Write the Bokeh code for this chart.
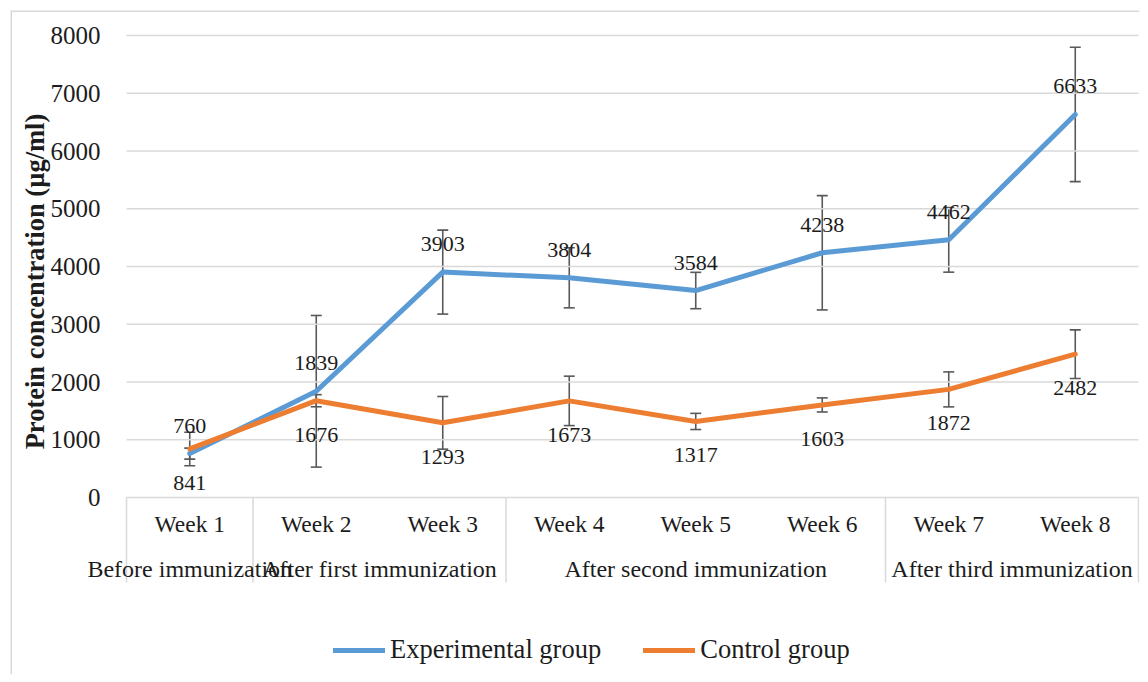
import math
from bokeh.plotting import figure
from bokeh.models import (Range1d, FixedTicker, LinearAxis, Whisker, ColumnDataSource,
                          Legend, LegendItem, TeeHead, Span)
from bokeh.core.properties import value
from bokeh.embed import file_html
from bokeh.resources import INLINE

# ---------------- data ----------------
weeks = ["Week 1", "Week 2", "Week 3", "Week 4", "Week 5", "Week 6", "Week 7", "Week 8"]
phases = ["Before immunization", "After first immunization", "After first immunization",
          "After second immunization", "After second immunization", "After second immunization",
          "After third immunization", "After third immunization"]
experimental = [760, 1839, 3903, 3804, 3584, 4238, 4462, 6633]
experimental_err = [95, 1313, 727, 520, 315, 990, 560, 1163]
control = [841, 1676, 1293, 1673, 1317, 1603, 1872, 2482]
control_err = [290, 105, 456, 428, 140, 122, 303, 421]
y_ticks = [0, 1000, 2000, 3000, 4000, 5000, 6000, 7000, 8000]
y_title = "Protein concentration (µg/ml)"
series_names = ["Experimental group", "Control group"]

FONT = "Liberation Serif"
TXT = "#1c1c1c"
BLUE = "#5B9BD5"
ORANGE = "#ED7D31"
GRID = "#d9d9d9"
ERR = "#595959"

# category positions (one unit per week)
xs = [i + 1 for i in range(len(weeks))]
x_lo, x_hi = xs[0] - 0.5, xs[-1] + 0.5

# phase groups: boundaries and centres
bounds = [x_lo]
centres, group_names = [], []
start = 0
for i in range(1, len(phases) + 1):
    if i == len(phases) or phases[i] != phases[start]:
        bounds.append(xs[i - 1] + 0.5)
        centres.append((xs[start] + xs[i - 1]) / 2)
        group_names.append(phases[start])
        start = i

# layout (pixels)
W, H = 1140, 676
UNIT = 126.5          # px per week
PX_PER_1000 = 57.75   # px per 1000 µg/ml
frame_left_pad = 116  # px of frame to the left of the first category
frame_right_pad = 1
frame_top_pad = 487   # px above y=0 inside the frame
frame_bottom_pad = 177  # px below y=0 inside the frame

x_start = x_lo - frame_left_pad / UNIT
x_end = x_hi + frame_right_pad / UNIT
y_end = frame_top_pad / PX_PER_1000 * 1000
y_start = -frame_bottom_pad / PX_PER_1000 * 1000
table_bottom = -85 / PX_PER_1000 * 1000

p = figure(x_range=Range1d(x_start, x_end), y_range=Range1d(y_start, y_end), width=W, height=H,
           output_backend="svg", toolbar_location=None, x_axis_location=None, y_axis_location=None,
           min_border_left=10, min_border_right=1, min_border_top=10, min_border_bottom=2)
p.outline_line_color = None
p.background_fill_color = "white"
p.border_fill_color = "white"
p.xgrid.visible = False
p.ygrid.visible = False

# chart-area border (left & top)
p.add_layout(Span(location=x_start, dimension="height", line_color=GRID, line_width=3))
p.add_layout(Span(location=y_end, dimension="width", line_color=GRID, line_width=3))

# horizontal gridlines across the category span
p.segment(x0=[x_lo] * len(y_ticks), x1=[x_hi] * len(y_ticks), y0=y_ticks, y1=y_ticks,
          line_color=GRID, line_width=1.5)
# table separators under the axis
p.segment(x0=bounds, x1=bounds, y0=[0] * len(bounds), y1=[table_bottom] * len(bounds),
          line_color=GRID, line_width=1.5)

# y axis
yax = LinearAxis(fixed_location=x_lo, ticker=FixedTicker(ticks=y_ticks),
                 axis_line_color=None, major_tick_line_color=None, minor_tick_line_color=None,
                 major_tick_out=0, major_tick_in=0, major_label_standoff=26,
                 major_label_text_font=FONT, major_label_text_font_size="25px",
                 major_label_text_color=TXT)
p.add_layout(yax, "left")

# week labels
ax_weeks = LinearAxis(fixed_location=0, ticker=FixedTicker(ticks=xs),
                      major_label_overrides={x: w for x, w in zip(xs, weeks)},
                      axis_line_color=None, major_tick_line_color=None, minor_tick_line_color=None,
                      major_tick_out=0, major_tick_in=0, major_label_standoff=13,
                      major_label_text_font=FONT, major_label_text_font_size="23.5px",
                      major_label_text_color=TXT)
p.add_layout(ax_weeks, "below")
# phase labels
ax_groups = LinearAxis(fixed_location=0, ticker=FixedTicker(ticks=centres),
                       major_label_overrides={c: g for c, g in zip(centres, group_names)},
                       axis_line_color=None, major_tick_line_color=None, minor_tick_line_color=None,
                       major_tick_out=0, major_tick_in=0, major_label_standoff=58,
                       major_label_text_font=FONT, major_label_text_font_size="24px",
                       major_label_text_color=TXT)
p.add_layout(ax_groups, "below")

src = ColumnDataSource(dict(
    x=xs,
    exp=experimental, exp_lo=[v - e for v, e in zip(experimental, experimental_err)],
    exp_hi=[v + e for v, e in zip(experimental, experimental_err)],
    ctl=control, ctl_lo=[v - e for v, e in zip(control, control_err)],
    ctl_hi=[v + e for v, e in zip(control, control_err)],
    exp_lbl=[str(v) for v in experimental], ctl_lbl=[str(v) for v in control],
))

r_exp = p.line(x="x", y="exp", source=src, line_color=BLUE, line_width=5,
               line_join="round", line_cap="round")
r_ctl = p.line(x="x", y="ctl", source=src, line_color=ORANGE, line_width=5,
               line_join="round", line_cap="round")

for lo, hi in (("exp_lo", "exp_hi"), ("ctl_lo", "ctl_hi")):
    w = Whisker(base="x", lower=lo, upper=hi, source=src, line_color=ERR, line_width=1.6,
                upper_head=TeeHead(size=11, line_color=ERR, line_width=1.6),
                lower_head=TeeHead(size=11, line_color=ERR, line_width=1.6))
    p.add_layout(w)

p.text(x="x", y="exp", text="exp_lbl", source=src, text_align="center",
       text_baseline="alphabetic", y_offset=-28, text_font=value(FONT),
       text_font_size="22px", text_color=TXT)
p.text(x="x", y="ctl", text="ctl_lbl", source=src, text_align="center",
       text_baseline="alphabetic", y_offset=34, text_font=value(FONT),
       text_font_size="22px", text_color=TXT)

# y axis title (rotated)
title_x = x_lo - 92 / UNIT
title_y = (y_ticks[0] + y_ticks[-1]) / 2 - 260
p.text(x=[title_x], y=[title_y], text=[y_title], angle=math.pi / 2,
       text_align="center", text_baseline="middle", text_font=value(FONT),
       text_font_size="26.5px", text_font_style="bold", text_color=TXT)

legend = Legend(items=[LegendItem(label=series_names[0], renderers=[r_exp]),
                       LegendItem(label=series_names[1], renderers=[r_ctl])],
                orientation="horizontal", location=(323, 9), glyph_width=52, glyph_height=28,
                label_standoff=5, spacing=42, padding=0, margin=0,
                border_line_color=None, background_fill_alpha=0,
                label_text_font=FONT, label_text_font_size="26.5px", label_text_color=TXT)
p.add_layout(legend)

open("out.html", "w").write(file_html(p, INLINE))
